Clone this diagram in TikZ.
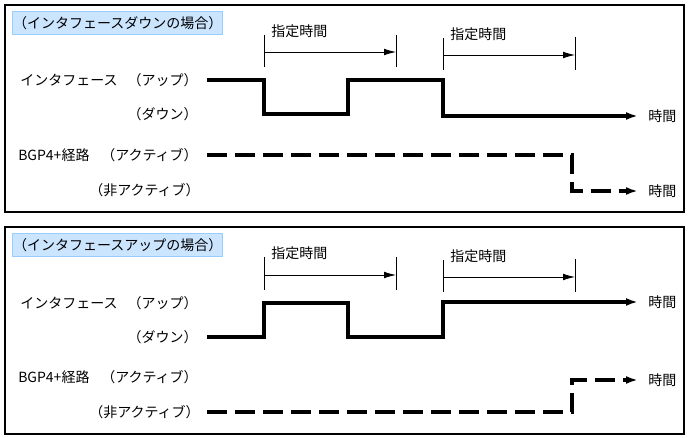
\documentclass[tikz,border=0pt]{standalone}
\usepackage{fontspec}
\setmainfont{Noto Sans CJK JP}
\usetikzlibrary{arrows.meta}
\definecolor{boxfill}{RGB}{204,229,255}
\definecolor{boxline}{RGB}{153,204,255}
\tikzset{
    panel/.style={draw, line width=1.5pt},
    titlebox/.style={draw=boxline, fill=boxfill, line width=1pt, anchor=north west,
        minimum width=157.5pt, minimum height=17pt, inner sep=1pt, align=left},
    lbl/.style={inner sep=0pt, font=\fontsize{10.5}{12}\selectfont},
    timelbl/.style={lbl, anchor=west, inner xsep=7.5pt},
    sig/.style={line width=2.3pt, line join=miter},
    route/.style={line width=2.3pt, dash pattern=on 15pt off 6pt},
    tip/.style={-{Latex[length=9pt,width=6pt]}},
    span/.style={line width=0.6pt, -{Latex[length=9pt,width=5pt]}},
    tick/.style={line width=0.6pt}
}
\begin{document}
\begin{tikzpicture}[x=0.75pt, y=-0.75pt]
    \useasboundingbox (0,0) rectangle (690,438);

    % ---- upper panel: interface down ----
    \draw[panel] (5,5) rectangle (684,212);
    \node[titlebox, lbl] (t1) at (12,11) {（インタフェースダウンの場合）};

    \node[lbl, anchor=west] (if1)  at (20,80)   {インタフェース};
    \node[lbl, anchor=east] (up1)  at (198,80)  {（アップ）};
    \node[lbl, anchor=east] (dn1)  at (198,114) {（ダウン）};
    \node[lbl, anchor=west] (bgp1) at (18,155)  {BGP4+経路};
    \node[lbl, anchor=east] (ac1)  at (198,155) {（アクティブ）};
    \node[lbl, anchor=east] (na1)  at (200,190) {（非アクティブ）};
    \node[timelbl] (tm1) at (638,116) {時間};
    \node[timelbl] (tm2) at (638,191) {時間};

    % measuring spans
    \coordinate (s1a) at (264,35);  \coordinate (s1b) at (264,67);
    \coordinate (s1c) at (396,35);  \coordinate (s1d) at (396,67);
    \coordinate (s2a) at (443,38);  \coordinate (s2b) at (443,70);
    \coordinate (s2c) at (575,37);  \coordinate (s2d) at (575,70);
    \draw[tick] (s1a) -- (s1b) (s1c) -- (s1d) (s2a) -- (s2b) (s2c) -- (s2d);
    \draw[span] (264,52) -- (396,52);
    \draw[span] (443,55) -- (575,55);
    \node[lbl, anchor=west] (d1) at (271,31) {指定時間};
    \node[lbl, anchor=west] (d2) at (450,34) {指定時間};

    % interface signal
    \coordinate (a0) at (207,80);
    \coordinate (a1) at (264,80);  \coordinate (a2) at (264,114);
    \coordinate (a3) at (348,114); \coordinate (a4) at (348,80);
    \coordinate (a5) at (443,80);  \coordinate (a6) at (443,116);
    \draw[sig, tip] (a0) -- (a1) -- (a2) -- (a3) -- (a4) -- (a5) -- (a6) -- (tm1.west);

    % route state
    \coordinate (b0) at (207,155);
    \coordinate (b1) at (572,155); \coordinate (b2) at (572,191);
    \draw[route, tip] (b0) -- (b1) -- (b2) -- (tm2.west);

    % ---- lower panel: interface up ----
    \draw[panel] (5,227) rectangle (684,434);
    \node[titlebox, lbl] (t2) at (12,233) {（インタフェースアップの場合）};

    \node[lbl, anchor=west] (if2)  at (20,303)  {インタフェース};
    \node[lbl, anchor=east] (up2)  at (198,303) {（アップ）};
    \node[lbl, anchor=east] (dn2)  at (198,337) {（ダウン）};
    \node[lbl, anchor=west] (bgp2) at (18,377)  {BGP4+経路};
    \node[lbl, anchor=east] (ac2)  at (198,377) {（アクティブ）};
    \node[lbl, anchor=east] (na2)  at (200,412) {（非アクティブ）};
    \node[timelbl] (tm3) at (638,302) {時間};
    \node[timelbl] (tm4) at (638,380) {時間};

    % measuring spans
    \coordinate (s3a) at (264,257); \coordinate (s3b) at (264,290);
    \coordinate (s3c) at (396,257); \coordinate (s3d) at (396,290);
    \coordinate (s4a) at (443,260); \coordinate (s4b) at (443,292);
    \coordinate (s4c) at (575,259); \coordinate (s4d) at (575,292);
    \draw[tick] (s3a) -- (s3b) (s3c) -- (s3d) (s4a) -- (s4b) (s4c) -- (s4d);
    \draw[span] (264,275) -- (396,275);
    \draw[span] (443,277) -- (575,277);
    \node[lbl, anchor=west] (d3) at (271,253) {指定時間};
    \node[lbl, anchor=west] (d4) at (450,256) {指定時間};

    % interface signal
    \coordinate (c0) at (207,337);
    \coordinate (c1) at (264,337); \coordinate (c2) at (264,303);
    \coordinate (c3) at (348,303); \coordinate (c4) at (348,337);
    \coordinate (c5) at (443,337); \coordinate (c6) at (443,302);
    \draw[sig, tip] (c0) -- (c1) -- (c2) -- (c3) -- (c4) -- (c5) -- (c6) -- (tm3.west);

    % route state
    \coordinate (e0) at (207,412);
    \coordinate (e1) at (572,412); \coordinate (e2) at (572,380);
    \draw[route, tip] (e0) -- (e1) -- (e2) -- (tm4.west);
\end{tikzpicture}
\end{document}
